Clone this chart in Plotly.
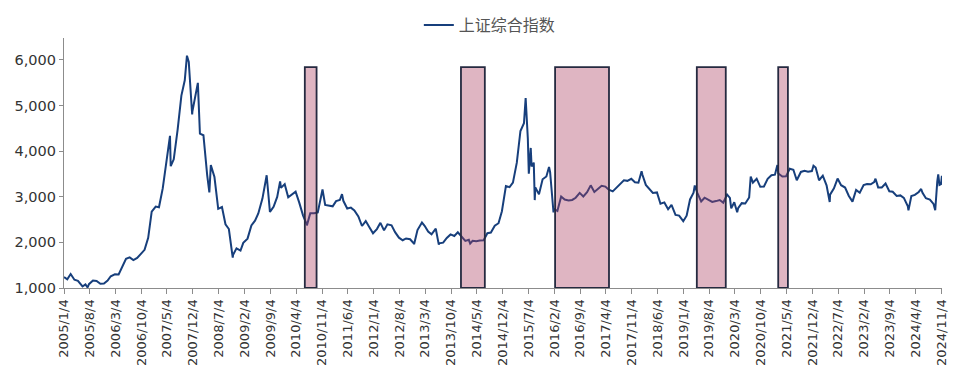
import plotly.graph_objects as go

# Monthly closes plus notable highs/lows of the Shanghai Composite Index
dates = [
    "2005-01-04","2005-01-31","2005-02-28","2005-03-31","2005-04-29","2005-05-31","2005-06-06","2005-06-30","2005-07-18","2005-07-29",
    "2005-08-31","2005-09-30","2005-10-31","2005-11-30","2005-12-30",
    "2006-01-25","2006-02-28","2006-03-31","2006-04-28","2006-05-31","2006-06-30","2006-07-31","2006-08-31","2006-09-29","2006-10-31","2006-11-30","2006-12-29",
    "2007-01-31","2007-02-27","2007-03-30","2007-04-30","2007-05-29","2007-06-04","2007-06-29","2007-07-31","2007-08-31","2007-09-28","2007-10-16","2007-10-31","2007-11-28","2007-11-30","2007-12-28",
    "2008-01-14","2008-01-31","2008-02-29","2008-03-31","2008-04-18","2008-04-30","2008-05-30","2008-06-30","2008-07-31","2008-08-29","2008-09-26","2008-10-28","2008-10-31","2008-11-28","2008-12-31",
    "2009-01-23","2009-02-27","2009-03-31","2009-04-30","2009-05-27","2009-06-30","2009-07-31","2009-08-04","2009-08-31","2009-09-30","2009-10-30","2009-11-23","2009-11-30","2009-12-31",
    "2010-01-29","2010-02-26","2010-03-31","2010-04-30","2010-05-31","2010-06-30","2010-07-02","2010-07-30","2010-08-31","2010-09-30","2010-10-29","2010-11-08","2010-11-30","2010-12-31",
    "2011-01-31","2011-02-28","2011-03-31","2011-04-18","2011-04-29","2011-05-31","2011-06-30","2011-07-29","2011-08-31","2011-09-30","2011-10-31","2011-11-30","2011-12-30",
    "2012-01-31","2012-02-29","2012-03-30","2012-04-27","2012-05-31","2012-06-29","2012-07-31","2012-08-31","2012-09-28","2012-10-31","2012-11-30","2012-12-03","2012-12-31",
    "2013-01-31","2013-02-06","2013-02-28","2013-03-29","2013-04-26","2013-05-31","2013-06-25","2013-06-28","2013-07-31","2013-08-30","2013-09-30","2013-10-31","2013-11-29","2013-12-31",
    "2014-01-30","2014-02-28","2014-03-11","2014-03-31","2014-04-30","2014-05-30","2014-06-30","2014-07-31","2014-08-29","2014-09-30","2014-10-31","2014-11-28","2014-12-31",
    "2015-01-30","2015-02-27","2015-03-31","2015-04-30","2015-05-29","2015-06-12","2015-06-30","2015-07-08","2015-07-24","2015-07-31","2015-08-18","2015-08-26","2015-08-31","2015-09-30","2015-10-30","2015-11-30","2015-12-22","2015-12-31",
    "2016-01-28","2016-01-29","2016-02-29","2016-03-31","2016-04-29","2016-05-31","2016-06-30","2016-07-29","2016-08-31","2016-09-30","2016-10-31","2016-11-30","2016-12-30",
    "2017-01-26","2017-02-28","2017-03-31","2017-04-28","2017-05-31","2017-06-30","2017-07-31","2017-08-31","2017-09-29","2017-10-31","2017-11-30","2017-12-29",
    "2018-01-24","2018-01-31","2018-02-28","2018-03-30","2018-04-27","2018-05-31","2018-06-29","2018-07-31","2018-08-31","2018-09-28","2018-10-31","2018-11-30","2018-12-28",
    "2019-01-03","2019-01-31","2019-02-28","2019-03-29","2019-04-08","2019-04-30","2019-05-31","2019-06-28","2019-07-31","2019-08-30","2019-09-30","2019-10-31","2019-11-29","2019-12-31",
    "2020-01-23","2020-02-03","2020-02-28","2020-03-23","2020-03-31","2020-04-30","2020-05-29","2020-06-30","2020-07-13","2020-07-31","2020-08-31","2020-09-30","2020-10-30","2020-11-30","2020-12-31",
    "2021-01-29","2021-02-18","2021-02-26","2021-03-31","2021-04-30","2021-05-31","2021-06-30","2021-07-28","2021-08-31","2021-09-30","2021-10-29","2021-11-30","2021-12-13","2021-12-31",
    "2022-01-28","2022-02-28","2022-03-31","2022-04-26","2022-04-29","2022-05-31","2022-06-30","2022-07-29","2022-08-31","2022-09-30","2022-10-31","2022-11-30","2022-12-30",
    "2023-01-31","2023-02-28","2023-03-31","2023-04-28","2023-05-09","2023-05-31","2023-06-30","2023-07-31","2023-08-31","2023-09-28","2023-10-31","2023-11-30","2023-12-29",
    "2024-01-31","2024-02-05","2024-02-29","2024-03-29","2024-04-30","2024-05-20","2024-05-31","2024-06-28","2024-07-31","2024-08-30","2024-09-13","2024-09-30","2024-10-08","2024-10-18","2024-10-31","2024-11-07",
]
values = [
    1242,1191,1306,1181,1159,1060,1034,1080,1011,1083,
    1162,1155,1092,1099,1161,
    1258,1299,1298,1440,1642,1672,1612,1658,1752,1837,2099,2675,
    2786,2771,3183,3841,4335,3670,3820,4471,5218,5552,6092,5954,4803,4871,5262,
    5497,4383,4348,3473,3094,3693,3433,2736,2776,2397,2293,1664,1729,1871,1821,
    1991,2082,2373,2477,2633,2959,3412,3471,2667,2779,2996,3338,3195,3277,
    2989,3051,3110,2871,2592,2398,2373,2638,2638,2655,2979,3159,2820,2808,
    2790,2905,2928,3057,2911,2743,2762,2701,2568,2359,2468,2333,2199,
    2292,2428,2263,2396,2373,2225,2103,2047,2086,2069,1980,1959,2269,
    2385,2434,2365,2237,2177,2300,1950,1979,1994,2098,2175,2141,2220,2116,
    2033,2056,1974,2033,2026,2039,2048,2202,2217,2364,2420,2683,3235,
    3210,3310,3748,4442,4612,5166,4277,3507,4070,3664,3748,2927,3206,3053,3383,3445,3651,3539,
    2655,2738,2688,3004,2938,2917,2930,2979,3085,3005,3100,3250,3104,
    3159,3242,3223,3155,3117,3192,3273,3361,3349,3393,3317,3307,
    3559,3481,3259,3169,3082,3095,2847,2876,2725,2821,2603,2588,2494,
    2464,2585,2941,3091,3246,3078,2899,2979,2933,2886,2905,2929,2871,3050,
    2977,2746,2880,2660,2750,2860,2852,2985,3443,3310,3396,3218,3225,3392,3473,
    3483,3696,3509,3442,3447,3615,3591,3362,3544,3568,3547,3564,3681,3640,
    3362,3462,3252,2886,3047,3187,3399,3253,3202,3024,2893,3151,3089,
    3256,3280,3273,3323,3395,3205,3202,3291,3120,3110,3018,3030,2975,
    2789,2702,3015,3041,3105,3171,3087,2967,2939,2842,2704,3336,3489,3261,3279,3460,
]

# Highlighted periods (start, end)
band_starts = ["2010-06-15", "2013-12-25", "2016-02-10", "2019-04-25", "2021-02-25"]
band_ends = ["2010-09-20", "2014-07-10", "2017-04-30", "2019-12-20", "2021-05-16"]
band_top = 5840
band_bottom = 1000

tick_dates = [
    "2005-01-04","2005-08-04","2006-03-04","2006-10-04","2007-05-04","2007-12-04","2008-07-04","2009-02-04","2009-09-04",
    "2010-04-04","2010-11-04","2011-06-04","2012-01-04","2012-08-04","2013-03-04","2013-10-04","2014-05-04","2014-12-04",
    "2015-07-04","2016-02-04","2016-09-04","2017-04-04","2017-11-04","2018-06-04","2019-01-04","2019-08-04","2020-03-04",
    "2020-10-04","2021-05-04","2021-12-04","2022-07-04","2023-02-04","2023-09-04","2024-04-04","2024-11-04",
]
tick_labels = [d[:4] + "/" + str(int(d[5:7])) + "/" + str(int(d[8:10])) for d in tick_dates]

y_ticks = [1000, 2000, 3000, 4000, 5000, 6000]
y_labels = ["1,000", "2,000", "3,000", "4,000", "5,000", "6,000"]

fig = go.Figure()
fig.add_trace(go.Scatter(
    x=dates, y=values, mode="lines", name="上证综合指数",
    line=dict(color="#173f7c", width=2),
))

for s, e in zip(band_starts, band_ends):
    fig.add_shape(type="rect", xref="x", yref="y", x0=s, x1=e, y0=band_bottom, y1=band_top,
                  fillcolor="rgba(170,60,95,0.38)", line=dict(color="#252a40", width=1.8),
                  layer="above")

font_family = "Verdana, 'DejaVu Sans', 'Noto Sans CJK SC', sans-serif"
fig.update_layout(
    width=960, height=377,
    margin=dict(l=56, r=26, t=30, b=97, autoexpand=False),
    paper_bgcolor="white", plot_bgcolor="white",
    font=dict(family=font_family, color="#333333", size=13),
    showlegend=True,
    legend=dict(orientation="h", x=0.485, xanchor="center", y=1.12, yanchor="top",
                font=dict(size=16, color="#555555", family="'Noto Sans CJK SC', sans-serif"),
                bgcolor="rgba(0,0,0,0)"),
    xaxis=dict(
        type="date", range=["2005-01-04", "2024-11-08"], automargin=False,
        tickmode="array", tickvals=tick_dates, ticktext=tick_labels, tickangle=-90,
        showgrid=False, zeroline=False, showline=True, linecolor="#8c8c8c", linewidth=1.2,
        ticks="outside", ticklen=5, tickcolor="#8c8c8c",
        tickfont=dict(size=13, color="#333333", family=font_family),
    ),
    yaxis=dict(
        range=[1000, 6480], tickmode="array", tickvals=y_ticks, ticktext=y_labels, automargin=False,
        showgrid=False, zeroline=False, showline=True, linecolor="#8c8c8c", linewidth=1.2,
        ticks="outside", ticklen=4, tickcolor="#8c8c8c",
        tickfont=dict(size=14.5, color="#333333", family=font_family),
    ),
)

fig.write_html("out.html")
